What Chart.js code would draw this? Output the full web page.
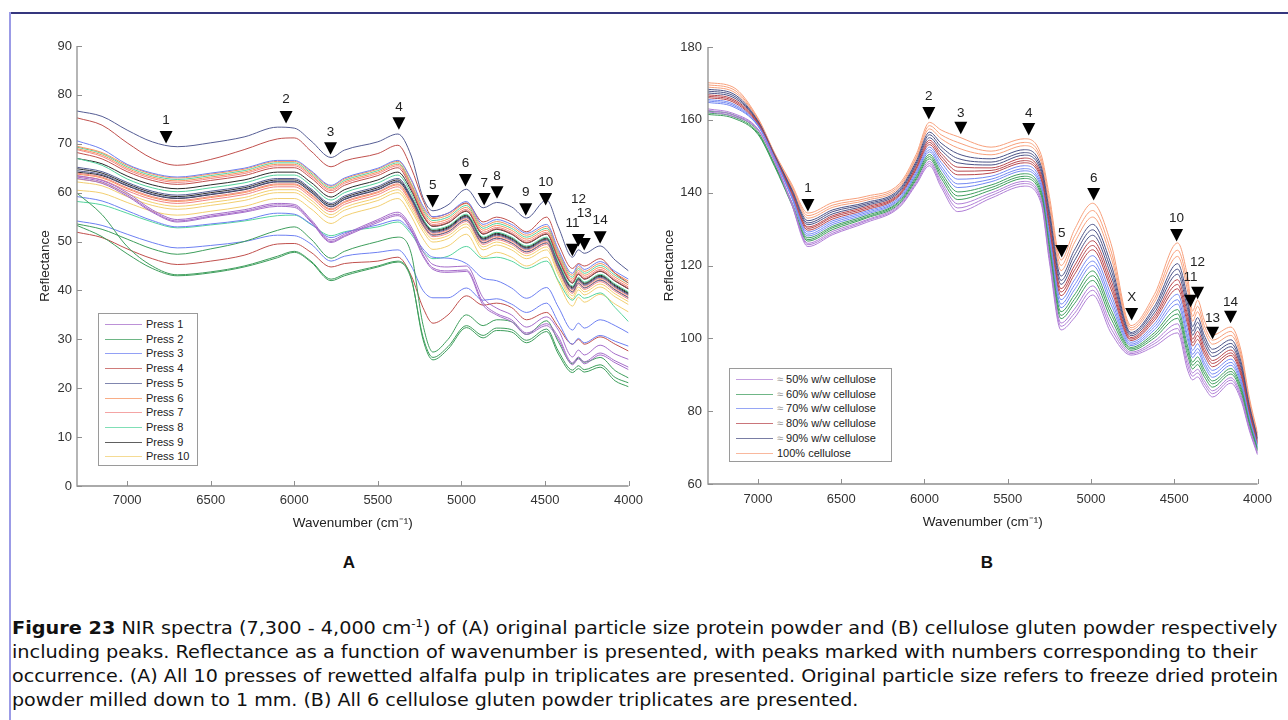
<!DOCTYPE html>
<html>
<head>
<meta charset="utf-8">
<title>NIR spectra</title>
<script src="https://cdn.jsdelivr.net/npm/chart.js@4.4.1/dist/chart.umd.min.js"></script>
<style>
  html, body { margin: 0; padding: 0; background: #fff; }
  body { width: 1288px; height: 720px; position: relative; overflow: hidden;
         font-family: "Liberation Sans", Arial, sans-serif; }
  .frame-top { position: absolute; left: 9px; top: 12px; width: 1279px; border-top: 2px solid #35367e; }
  .frame-left { position: absolute; left: 9px; top: 12px; height: 708px; border-left: 2px solid #9b9be6; }
  canvas { position: absolute; }
  #chartA { left: 20px; top: 30px; }
  #chartB { left: 650px; top: 30px; }
  .panel { position: absolute; top: 553px; width: 40px; text-align: center;
           font-weight: bold; font-size: 17px; color: #111; }
  .legend { position: absolute; border: 1px solid #9a9a9a; background: #fff;
            font-size: 11px; color: #222; }
  .legend .row { position: absolute; left: 0; height: 14px; line-height: 14px; white-space: nowrap; }
  .legend .swatch { position: absolute; top: 7px; border-top: 1.5px solid; opacity: 0.75; }
  .legend .txt { position: absolute; top: 0; }
  .legend .approx { color: #999; }
  .cap { position: absolute; left: 12px; white-space: nowrap; display: inline-block;
         font-family: "Liberation Sans Narrow", "DejaVu Sans Condensed", "Liberation Sans", Arial, sans-serif;
         font-size: 18px; line-height: 24px; color: #111; transform-origin: 0 50%; }
  .cap b { font-weight: bold; }
  .cap sup { font-size: 11px; line-height: 0; }
</style>
</head>
<body>
<div class="frame-top"></div>
<div class="frame-left"></div>

<canvas id="chartA" width="630" height="520"></canvas>
<canvas id="chartB" width="630" height="520"></canvas>

<div id="legendA" class="legend" style="left:98px; top:313px; width:98px; height:151px;"></div>
<div id="legendB" class="legend" style="left:729px; top:368px; width:161px; height:92px;"></div>

<div class="panel" style="left:329px;">A</div>
<div class="panel" style="left:967px;">B</div>

<div class="cap" data-width="1266" style="top:616px;"><b>Figure 23</b> NIR spectra (7,300 - 4,000 cm<sup>-1</sup>) of (A) original particle size protein powder and (B) cellulose gluten powder respectively</div>
<div class="cap" data-width="1245" style="top:640px;">including peaks. Reflectance as a function of wavenumber is presented, with peaks marked with numbers corresponding to their</div>
<div class="cap" data-width="1266" style="top:664px;">occurrence. (A) All 10 presses of rewetted alfalfa pulp in triplicates are presented. Original particle size refers to freeze dried protein</div>
<div class="cap" data-width="846" style="top:688px;">powder milled down to 1 mm. (B) All 6 cellulose gluten powder triplicates are presented.</div>

<script>
// ---- Panel A: 10 presses, triplicates ----
const wavenumbersA = [7300, 7150, 7000, 6850, 6700, 6500, 6300, 6100, 6000, 5900, 5780, 5700, 5500, 5380, 5300, 5230,
  5170, 5080, 4970, 4870, 4790, 4700, 4610, 4490, 4420, 4335, 4300, 4265, 4170, 4080, 4000];

const press1_1 = [63.5, 62.5, 60.0, 56.5, 54.5, 55.5, 56.5, 57.8, 57.6, 54.5, 50.3, 51.5, 54.5, 56.0, 53.0, 48.0, 45.3, 44.8, 45.0, 38.5, 36.4, 35.0, 32.5, 34.6, 31.9, 26.4, 27.8, 26.8, 28.8, 27.0, 25.9];
const press1_2 = [63.2, 62.2, 59.6, 56.2, 54.2, 55.2, 56.2, 57.5, 57.3, 54.2, 50.0, 51.2, 54.2, 55.6, 52.5, 47.3, 44.6, 44.0, 44.2, 37.5, 35.3, 34.0, 31.3, 33.2, 30.5, 25.2, 26.4, 25.4, 27.2, 25.6, 24.3];
const press1_3 = [62.9, 61.9, 59.3, 56.0, 54.0, 55.0, 56.0, 57.2, 57.0, 54.0, 49.8, 51.0, 53.9, 55.3, 52.2, 47.0, 44.3, 43.7, 43.9, 37.0, 35.0, 33.6, 31.0, 32.8, 30.0, 24.8, 26.0, 25.0, 26.8, 25.2, 23.8];

const press2_1 = [59.9, 55.5, 49.0, 45.0, 43.2, 43.8, 45.0, 47.0, 48.0, 46.0, 42.3, 43.3, 45.0, 46.0, 42.5, 30.0, 25.8, 28.0, 32.4, 30.3, 31.8, 31.5, 29.3, 31.6, 27.0, 23.2, 24.0, 23.3, 24.3, 21.5, 20.3];
const press2_2 = [53.6, 52.5, 50.5, 48.5, 47.4, 48.5, 50.0, 52.3, 53.0, 50.5, 46.6, 48.0, 50.0, 50.9, 47.5, 33.0, 27.4, 30.0, 35.0, 32.8, 34.0, 33.6, 31.0, 33.8, 29.5, 25.0, 26.2, 25.3, 26.3, 23.6, 22.1];
const press2_3 = [53.3, 51.0, 47.5, 44.5, 43.0, 43.6, 44.8, 46.7, 47.8, 45.8, 42.0, 43.0, 44.8, 45.8, 42.3, 30.5, 26.3, 28.5, 32.8, 30.8, 32.3, 32.0, 29.8, 32.1, 27.6, 23.7, 24.6, 23.8, 24.8, 22.2, 21.1];

const press3_1 = [70.6, 68.9, 65.8, 64.0, 63.2, 64.0, 65.0, 66.6, 66.6, 64.5, 61.5, 63.0, 65.0, 66.6, 62.7, 57.3, 55.1, 55.8, 58.2, 53.5, 54.5, 53.5, 51.7, 53.5, 48.4, 43.5, 45.3, 44.3, 45.9, 43.9, 42.3];
const press3_2 = [59.2, 58.3, 56.3, 54.3, 53.0, 53.6, 54.4, 55.8, 55.6, 53.6, 50.8, 51.8, 53.4, 54.4, 52.0, 48.5, 46.8, 46.6, 45.5, 42.5, 42.0, 40.5, 38.4, 40.6, 36.6, 31.9, 33.3, 32.3, 34.0, 32.8, 31.3];
const press3_3 = [54.2, 53.3, 51.5, 49.8, 48.7, 49.2, 50.0, 51.3, 51.2, 49.5, 46.0, 47.0, 47.8, 48.3, 45.0, 40.0, 38.5, 38.5, 40.5, 38.0, 38.3, 37.2, 35.5, 37.4, 33.5, 29.0, 30.2, 29.3, 30.8, 29.6, 28.6];

const press4_1 = [75.3, 73.8, 70.2, 67.0, 65.6, 66.8, 68.8, 71.0, 71.2, 68.5, 65.3, 66.5, 68.0, 69.7, 65.0, 58.5, 55.0, 55.8, 57.9, 54.0, 55.0, 54.0, 52.0, 55.0, 49.5, 44.5, 45.5, 45.0, 46.5, 43.5, 41.5];
const press4_2 = [68.2, 66.9, 64.3, 62.5, 61.7, 62.5, 63.5, 65.1, 65.1, 63.0, 60.0, 61.5, 63.5, 65.1, 60.8, 55.4, 53.2, 53.9, 56.3, 51.6, 52.6, 51.6, 49.8, 51.6, 46.5, 41.6, 43.4, 42.4, 44.0, 42.0, 40.4];
const press4_3 = [51.9, 50.8, 48.5, 46.5, 45.3, 46.0, 47.2, 49.5, 49.6, 47.8, 44.8, 45.5, 46.0, 46.8, 43.0, 36.5, 33.3, 35.0, 38.9, 37.0, 37.4, 36.5, 34.0, 35.5, 32.5, 29.0, 30.0, 29.0, 30.5, 29.0, 27.6];

const press5_1 = [76.7, 75.6, 72.8, 70.4, 69.4, 70.2, 71.4, 73.4, 73.2, 70.6, 67.2, 68.7, 70.4, 72.0, 67.5, 59.0, 56.3, 57.5, 60.7, 56.9, 58.0, 57.1, 54.8, 58.5, 53.0, 46.8, 48.3, 47.6, 49.1, 46.2, 44.0];
const press5_2 = [65.2, 64.3, 62.1, 60.3, 59.5, 60.3, 61.3, 62.9, 62.9, 60.8, 57.8, 59.3, 61.3, 62.9, 59.2, 54.1, 51.9, 52.6, 55.0, 50.3, 51.3, 50.3, 48.5, 50.3, 45.2, 40.3, 42.1, 41.1, 42.7, 40.7, 39.1];
const press5_3 = [64.5, 63.7, 61.5, 59.7, 58.9, 59.7, 60.7, 62.3, 62.3, 60.2, 57.2, 58.7, 60.7, 62.3, 58.6, 53.5, 51.3, 52.0, 54.4, 49.7, 50.7, 49.7, 47.9, 49.7, 44.6, 39.7, 41.5, 40.5, 42.1, 40.1, 38.5];

const press6_1 = [69.5, 68.2, 65.6, 63.8, 63.0, 63.8, 64.8, 66.4, 66.4, 64.3, 61.3, 62.8, 64.8, 66.4, 62.5, 56.9, 54.7, 55.4, 57.8, 53.1, 54.1, 53.1, 51.3, 53.1, 48.0, 43.1, 44.9, 43.9, 45.5, 43.5, 41.9];
const press6_2 = [69.0, 67.7, 65.0, 63.2, 62.4, 63.2, 64.2, 65.8, 65.8, 63.7, 60.7, 62.2, 64.2, 65.8, 61.6, 56.1, 53.9, 54.6, 57.0, 52.3, 53.3, 52.3, 50.5, 52.3, 47.2, 42.3, 44.1, 43.1, 44.7, 42.7, 41.1];
const press6_3 = [63.8, 63.0, 60.8, 59.0, 58.2, 59.0, 60.0, 61.6, 61.6, 59.5, 56.5, 58.0, 60.0, 61.6, 58.0, 53.6, 51.4, 52.1, 54.5, 49.8, 50.8, 49.8, 48.0, 49.8, 44.7, 39.8, 41.6, 40.6, 42.2, 40.2, 38.6];

const press7_1 = [68.8, 67.4, 64.7, 62.9, 62.1, 62.9, 63.9, 65.5, 65.5, 63.4, 60.4, 61.9, 63.9, 65.5, 61.3, 55.7, 53.5, 54.2, 56.6, 51.9, 52.9, 51.9, 50.1, 51.9, 46.8, 41.9, 43.7, 42.7, 44.3, 42.3, 40.7];
const press7_2 = [64.0, 63.2, 61.0, 59.2, 58.4, 59.2, 60.2, 61.8, 61.8, 59.7, 56.7, 58.2, 60.2, 61.8, 58.3, 53.9, 51.7, 52.4, 54.8, 50.1, 51.1, 50.1, 48.3, 50.1, 45.0, 40.1, 41.9, 40.9, 42.5, 40.5, 38.9];
const press7_3 = [63.4, 62.6, 60.4, 58.6, 57.8, 58.6, 59.6, 61.2, 61.2, 59.1, 56.1, 57.6, 59.6, 61.2, 57.6, 53.2, 51.0, 51.7, 54.1, 49.4, 50.4, 49.4, 47.6, 49.4, 44.3, 39.4, 41.2, 40.2, 41.8, 39.8, 38.2];

const press8_1 = [69.3, 68.0, 65.3, 63.5, 62.7, 63.5, 64.5, 66.1, 66.1, 64.0, 61.0, 62.5, 64.5, 66.1, 61.8, 56.5, 54.3, 55.0, 57.4, 52.7, 53.7, 52.7, 50.9, 52.7, 47.6, 42.7, 44.5, 43.5, 45.1, 43.1, 41.5];
const press8_2 = [67.0, 65.6, 62.8, 61.0, 60.2, 61.0, 62.0, 63.6, 63.6, 61.5, 58.5, 60.0, 62.0, 63.6, 59.8, 54.7, 52.5, 53.2, 55.6, 50.9, 51.9, 50.9, 49.1, 50.9, 45.8, 40.9, 42.7, 41.7, 43.3, 41.3, 39.7];
const press8_3 = [58.2, 57.5, 55.8, 54.0, 52.8, 53.4, 54.2, 55.3, 55.4, 53.5, 51.2, 52.0, 53.0, 54.0, 51.5, 48.0, 46.5, 47.0, 49.0, 46.5, 46.8, 46.0, 44.5, 46.0, 42.0, 38.0, 39.2, 38.4, 39.5, 36.5, 33.6];

const press9_1 = [67.0, 65.9, 63.4, 61.6, 60.8, 61.6, 62.6, 64.2, 64.2, 62.1, 59.1, 60.6, 62.6, 64.2, 60.4, 55.3, 53.1, 53.8, 56.2, 51.5, 52.5, 51.5, 49.7, 51.5, 46.4, 41.5, 43.3, 42.3, 43.9, 41.9, 40.3];
const press9_2 = [64.9, 64.0, 61.8, 60.0, 59.2, 60.0, 61.0, 62.6, 62.6, 60.5, 57.5, 59.0, 61.0, 62.6, 59.0, 54.5, 52.3, 53.0, 55.4, 50.7, 51.7, 50.7, 48.9, 50.7, 45.6, 40.7, 42.5, 41.5, 43.1, 41.1, 39.5];
const press9_3 = [64.2, 63.5, 61.4, 59.6, 58.8, 59.6, 60.6, 62.2, 62.2, 60.1, 57.1, 58.6, 60.6, 62.2, 58.7, 54.3, 52.1, 52.8, 55.2, 50.5, 51.5, 50.5, 48.7, 50.5, 45.4, 40.5, 42.3, 41.3, 42.9, 40.9, 39.3];

const press10_1 = [62.8, 62.0, 59.8, 58.0, 57.2, 58.0, 59.0, 60.6, 60.6, 58.5, 55.5, 57.0, 59.0, 60.6, 57.0, 52.7, 50.5, 51.2, 53.6, 48.9, 49.9, 48.9, 47.1, 48.9, 43.8, 38.9, 40.7, 39.7, 41.3, 39.3, 37.7];
const press10_2 = [62.2, 61.4, 59.2, 57.4, 56.6, 57.4, 58.4, 60.0, 60.0, 57.9, 54.9, 56.4, 58.4, 60.0, 56.4, 52.1, 49.9, 50.6, 53.0, 48.3, 49.3, 48.3, 46.5, 48.3, 43.2, 38.3, 40.1, 39.1, 40.7, 38.7, 37.1];
const press10_3 = [60.5, 59.9, 58.0, 56.2, 55.4, 56.2, 57.2, 58.8, 58.8, 56.7, 53.7, 55.2, 57.2, 58.8, 55.2, 50.6, 48.4, 49.1, 51.5, 46.8, 47.8, 46.8, 45.0, 46.8, 41.7, 36.8, 38.6, 37.6, 39.2, 37.2, 35.6];

const pressLabels = ['Press 1', 'Press 2', 'Press 3', 'Press 4', 'Press 5', 'Press 6', 'Press 7', 'Press 8', 'Press 9', 'Press 10'];
const pressColors = ['#a56cc9', '#3e9e5c', '#6e80f2', '#c0504d', '#555d94', '#f7925e', '#f08585', '#55d49e', '#2b2b2b', '#f2cf70'];

const peaksA_wavenumber = [6767, 6049, 5783, 5374, 5172, 4976, 4864, 4787, 4615, 4496, 4336, 4300, 4265, 4170];
const peaksA_level = [71.4, 75.5, 69.1, 74.2, 58.3, 62.6, 58.7, 60.1, 56.6, 58.7, 48.3, 50.3, 49.5, 50.9];
const peaksA_labelLevel = [74.8, 79.1, 72.4, 77.5, 61.6, 66.1, 62.0, 63.4, 60.1, 62.2, 53.8, 58.7, 55.8, 54.4];
const peaksA_names = ['1', '2', '3', '4', '5', '6', '7', '8', '9', '10', '11', '12', '13', '14'];

const yTicksA = [0, 10, 20, 30, 40, 50, 60, 70, 80, 90];

// ---- Panel B: cellulose gluten powder, triplicates ----
const wavenumbersB = [7300, 7150, 7000, 6900, 6800, 6700, 6550, 6350, 6150, 6050, 5970, 5900, 5800, 5600, 5400, 5300,
  5250, 5180, 5100, 4990, 4880, 4760, 4620, 4480, 4420, 4390, 4360, 4320, 4270, 4160, 4100, 4050, 4000];

const cell50_1 = [162.2, 161.0, 157.2, 148.5, 137.1, 125.2, 128.5, 131.8, 136.0, 142.2, 147.4, 141.5, 134.8, 138.5, 141.8, 137.1, 121.0, 102.3, 105.6, 111.9, 101.5, 95.4, 97.8, 101.5, 91.3, 88.6, 89.4, 86.6, 83.9, 87.7, 83.1, 74.8, 68.0];
const cell50_2 = [162.6, 161.4, 157.4, 148.6, 137.4, 125.7, 128.9, 132.2, 136.3, 142.6, 148.0, 142.3, 135.8, 139.2, 142.5, 137.8, 121.9, 103.3, 106.8, 113.2, 102.7, 95.8, 98.5, 102.7, 92.6, 89.6, 90.5, 87.5, 84.8, 88.5, 83.8, 75.3, 68.3];
const cell50_3 = [163.0, 161.8, 157.5, 148.7, 137.7, 126.1, 129.4, 132.5, 136.7, 143.0, 148.6, 143.1, 136.9, 139.9, 143.1, 138.4, 122.8, 104.2, 108.0, 114.4, 104.0, 96.2, 99.2, 104.0, 93.9, 90.5, 91.5, 88.4, 85.6, 89.2, 84.5, 75.7, 68.6];

const cell60_1 = [161.5, 160.5, 156.0, 147.2, 137.0, 126.7, 129.9, 133.0, 137.0, 143.5, 149.3, 144.0, 138.1, 140.7, 143.9, 139.2, 123.9, 105.4, 109.5, 115.9, 105.4, 96.7, 100.1, 105.5, 95.4, 91.6, 92.8, 89.5, 86.6, 90.2, 85.3, 76.3, 69.0];
const cell60_2 = [161.9, 160.9, 156.3, 147.5, 137.4, 127.1, 130.4, 133.3, 137.4, 143.9, 149.9, 144.8, 139.1, 141.4, 144.5, 139.9, 124.8, 106.3, 110.7, 117.2, 106.7, 97.1, 100.8, 106.7, 96.7, 92.6, 93.8, 90.5, 87.5, 90.9, 86.0, 76.7, 69.3];
const cell60_3 = [162.4, 161.4, 156.7, 147.8, 137.7, 127.6, 130.8, 133.7, 137.7, 144.4, 150.5, 145.6, 140.2, 142.1, 145.2, 140.6, 125.7, 107.3, 111.9, 118.5, 107.9, 97.5, 101.5, 107.9, 97.9, 93.5, 94.9, 91.4, 88.3, 91.7, 86.7, 77.2, 69.6];

const cell70_1 = [164.8, 163.6, 158.3, 149.3, 138.9, 128.1, 131.3, 134.1, 138.1, 144.9, 151.2, 146.5, 141.4, 143.0, 146.0, 141.4, 126.8, 108.4, 113.3, 120.0, 109.3, 98.0, 102.3, 109.4, 99.5, 94.7, 96.2, 92.5, 89.3, 92.6, 87.5, 77.7, 69.9];
const cell70_2 = [165.2, 164.0, 158.4, 149.4, 139.1, 128.6, 131.8, 134.5, 138.4, 145.3, 151.8, 147.3, 142.4, 143.7, 146.6, 142.1, 127.7, 109.4, 114.6, 121.2, 110.6, 98.4, 103.1, 110.6, 100.7, 95.6, 97.2, 93.4, 90.2, 93.4, 88.2, 78.2, 70.2];
const cell70_3 = [165.6, 164.4, 158.6, 149.5, 139.5, 129.2, 132.3, 134.9, 138.8, 145.8, 152.5, 148.3, 143.7, 144.5, 147.4, 142.9, 128.7, 110.6, 116.0, 122.7, 112.0, 98.9, 103.9, 112.1, 102.3, 96.7, 98.5, 94.5, 91.2, 94.3, 89.0, 78.7, 70.6];

const cell80_1 = [166.1, 164.9, 158.8, 149.7, 139.8, 129.7, 132.8, 135.3, 139.2, 146.3, 153.2, 149.2, 144.9, 145.4, 148.2, 143.7, 129.8, 111.7, 117.5, 124.3, 113.5, 99.4, 104.8, 113.6, 103.8, 97.9, 99.7, 95.6, 92.2, 95.3, 89.8, 79.3, 70.9];
const cell80_2 = [166.5, 165.3, 159.0, 149.8, 140.1, 130.2, 133.3, 135.7, 139.5, 146.7, 153.8, 150.0, 145.9, 146.1, 148.8, 144.3, 130.7, 112.7, 118.7, 125.5, 114.7, 99.8, 105.5, 114.8, 105.1, 98.8, 100.8, 96.5, 93.1, 96.0, 90.5, 79.7, 71.2];
const cell80_3 = [166.9, 165.7, 159.2, 149.9, 140.4, 130.6, 133.7, 136.1, 139.8, 147.1, 154.4, 150.8, 147.0, 146.8, 149.5, 145.0, 131.6, 113.6, 119.9, 126.8, 116.0, 100.2, 106.2, 116.1, 106.4, 99.8, 101.9, 97.5, 93.9, 96.8, 91.2, 80.2, 71.5];

const cell90_1 = [167.4, 166.2, 159.4, 150.1, 140.7, 131.2, 134.2, 136.5, 140.2, 147.6, 155.1, 151.7, 148.2, 147.6, 150.3, 145.8, 132.7, 114.8, 121.3, 128.3, 117.4, 100.7, 107.0, 117.6, 107.9, 100.9, 103.1, 98.6, 95.0, 97.7, 92.0, 80.7, 71.9];
const cell90_2 = [167.9, 166.7, 159.5, 150.2, 141.0, 131.7, 134.8, 136.9, 140.6, 148.1, 155.9, 152.6, 149.4, 148.4, 151.0, 146.6, 133.8, 115.9, 122.8, 129.8, 118.9, 101.2, 107.9, 119.0, 109.4, 102.0, 104.4, 99.7, 96.0, 98.6, 92.8, 81.3, 72.3];
const cell90_3 = [168.4, 167.2, 159.7, 150.4, 141.3, 132.3, 135.3, 137.3, 141.0, 148.6, 156.6, 153.6, 150.7, 149.3, 151.8, 147.4, 134.9, 117.1, 124.2, 131.3, 120.4, 101.6, 108.7, 120.5, 110.9, 103.2, 105.7, 100.8, 97.0, 99.6, 93.7, 81.8, 72.6];

const cell100_1 = [169.0, 167.8, 160.0, 150.5, 141.8, 133.0, 136.0, 137.9, 141.5, 149.3, 157.5, 154.8, 152.3, 150.4, 152.9, 148.5, 136.3, 118.6, 126.2, 133.3, 122.3, 102.3, 109.9, 122.5, 113.0, 104.7, 107.3, 102.2, 98.4, 100.8, 94.8, 82.5, 73.1];
const cell100_2 = [169.6, 168.4, 160.2, 150.7, 142.2, 133.7, 136.6, 138.4, 142.0, 149.8, 158.4, 155.9, 153.8, 151.4, 153.8, 149.4, 137.6, 120.0, 127.9, 135.1, 124.0, 102.9, 110.9, 124.2, 114.8, 106.0, 108.8, 103.5, 99.5, 101.9, 95.7, 83.2, 73.5];
const cell100_3 = [170.2, 169.0, 160.5, 150.9, 142.6, 134.4, 137.3, 139.0, 142.5, 150.5, 159.3, 157.2, 155.4, 152.5, 154.8, 150.5, 139.0, 121.5, 129.8, 137.1, 126.0, 103.5, 112.0, 126.2, 116.8, 107.5, 110.5, 105.0, 100.9, 103.1, 96.8, 83.9, 74.0];

const celluloseLabels = ['≈ 50% w/w cellulose', '≈ 60% w/w cellulose', '≈ 70% w/w cellulose',
  '≈ 80% w/w cellulose', '≈ 90% w/w cellulose', '100% cellulose'];
const celluloseColors = ['#b07fd6', '#3f9e5e', '#7388f2', '#b8474d', '#4c5286', '#f7a07c'];

const peaksB_wavenumber = [6700, 5974, 5782, 5374, 5176, 4984, 4756, 4486, 4402, 4360, 4270, 4162];
const peaksB_level = [136.6, 161.9, 157.8, 157.5, 124.0, 139.6, 106.7, 128.4, 110.3, 112.5, 101.5, 105.9];
const peaksB_labelLevel = [141.3, 166.5, 161.9, 161.9, 128.9, 144.0, 111.4, 133.0, 116.8, 121.0, 105.6, 110.0];
const peaksB_names = ['1', '2', '3', '4', '5', '6', 'X', '10', '11', '12', '13', '14'];

const yTicksB = [60, 80, 100, 120, 140, 160, 180];
const xTicks = [7000, 6500, 6000, 5500, 5000, 4500, 4000];

// ---- drawing helpers ----
Chart.defaults.font.family = '"Liberation Sans", Arial, sans-serif';
Chart.defaults.color = '#333';

// MATLAB-style axes: left and bottom lines with ticks pointing inward
const inwardAxes = {
  id: 'inwardAxes',
  afterDraw(chart) {
    const { ctx, chartArea: a, scales: { x, y } } = chart;
    ctx.save();
    ctx.strokeStyle = '#8f8f8f';
    ctx.lineWidth = 1.3;
    ctx.beginPath();
    ctx.moveTo(a.left, a.top);
    ctx.lineTo(a.left, a.bottom);
    ctx.lineTo(a.right, a.bottom);
    ctx.stroke();
    ctx.lineWidth = 1;
    ctx.beginPath();
    x.ticks.forEach(t => {
      const px = Math.round(x.getPixelForValue(t.value)) + 0.5;
      ctx.moveTo(px, a.bottom);
      ctx.lineTo(px, a.bottom - 5);
    });
    y.ticks.forEach(t => {
      const py = Math.round(y.getPixelForValue(t.value)) + 0.5;
      ctx.moveTo(a.left, py);
      ctx.lineTo(a.left + 5, py);
    });
    ctx.stroke();
    ctx.restore();
  }
};

// downward triangles with peak numbers
const peakMarkers = {
  id: 'peakMarkers',
  afterDatasetsDraw(chart, args, opts) {
    if (!opts.names) return;
    const { ctx, scales: { x, y } } = chart;
    ctx.save();
    ctx.font = '13.5px "Liberation Sans", Arial, sans-serif';
    ctx.textAlign = 'center';
    ctx.textBaseline = 'middle';
    opts.names.forEach((name, i) => {
      const px = x.getPixelForValue(opts.wavenumber[i]);
      const py = y.getPixelForValue(opts.level[i]);
      ctx.fillStyle = '#000';
      ctx.beginPath();
      ctx.moveTo(px - 6.5, py - 6);
      ctx.lineTo(px + 6.5, py - 6);
      ctx.lineTo(px, py + 6.5);
      ctx.closePath();
      ctx.fill();
      ctx.fillStyle = '#222';
      ctx.fillText(name, px, y.getPixelForValue(opts.labelLevel[i]));
    });
    ctx.restore();
  }
};

function lineDataset(wavenumbers, values, color) {
  return {
    data: wavenumbers.map((w, i) => ({ x: w, y: values[i] })),
    borderColor: color,
    borderWidth: 1,
    pointRadius: 0,
    cubicInterpolationMode: 'monotone',
    fill: false
  };
}

function buildChart(id, datasets, yTicks, peaks, box) {
  const ctx = document.getElementById(id).getContext('2d');
  return new Chart(ctx, {
    type: 'line',
    data: { datasets },
    options: {
      responsive: false,
      animation: false,
      events: [],
      layout: { padding: { left: 0, top: box.top, right: box.right, bottom: 0 } },
      plugins: {
        legend: { display: false },
        tooltip: { enabled: false },
        peakMarkers: peaks
      },
      scales: {
        x: {
          type: 'linear',
          reverse: true,
          min: 4000,
          max: 7300,
          grid: { display: false, drawTicks: false },
          border: { display: false },
          afterBuildTicks: s => { s.ticks = xTicks.map(v => ({ value: v })); },
          afterFit: s => { s.height = box.xAxisHeight; },
          ticks: { padding: box.xTickPad, maxRotation: 0, font: { size: 13 }, color: '#333', callback: v => String(v) },
          title: { display: true, text: 'Wavenumber (cm⁻¹)', color: '#222', font: { size: 13.5 },
                   padding: { top: 0, bottom: box.xTitlePad } }
        },
        y: {
          type: 'linear',
          min: yTicks[0],
          max: yTicks[yTicks.length - 1],
          grid: { display: false, drawTicks: false },
          border: { display: false },
          afterBuildTicks: s => { s.ticks = yTicks.map(v => ({ value: v })); },
          afterFit: s => { s.width = box.yAxisWidth; },
          ticks: { padding: box.yTickPad, font: { size: 13 }, color: '#333', callback: v => String(v) },
          title: { display: true, text: 'Reflectance', color: '#222', font: { size: 13.5 },
                   padding: { top: box.yTitlePad, bottom: 0 } }
        }
      }
    },
    plugins: [inwardAxes, peakMarkers]
  });
}

function buildLegend(id, labels, colors) {
  const el = document.getElementById(id);
  labels.forEach((label, i) => {
    const row = document.createElement('div');
    row.className = 'row';
    row.style.top = (3 + i * 14.7) + 'px';
    row.style.width = '100%';
    const sw = document.createElement('span');
    sw.className = 'swatch';
    sw.style.left = '6px';
    sw.style.width = '37px';
    sw.style.borderTopColor = colors[i];
    const txt = document.createElement('span');
    txt.className = 'txt';
    txt.style.left = '47px';
    if (label.startsWith('≈')) {
      txt.innerHTML = '<span class="approx">≈</span>' + label.slice(1);
    } else {
      txt.textContent = label;
    }
    row.appendChild(sw);
    row.appendChild(txt);
    el.appendChild(row);
  });
}

// ---- panel A ----
const pressGroups = [
  [press1_1, press1_2, press1_3], [press2_1, press2_2, press2_3], [press3_1, press3_2, press3_3],
  [press4_1, press4_2, press4_3], [press5_1, press5_2, press5_3], [press6_1, press6_2, press6_3],
  [press7_1, press7_2, press7_3], [press8_1, press8_2, press8_3], [press9_1, press9_2, press9_3],
  [press10_1, press10_2, press10_3]
];
const datasetsA = [];
pressGroups.forEach((group, p) => group.forEach(vals => datasetsA.push(lineDataset(wavenumbersA, vals, pressColors[p]))));

buildChart('chartA', datasetsA, yTicksA,
  { wavenumber: peaksA_wavenumber, level: peaksA_level, labelLevel: peaksA_labelLevel, names: peaksA_names },
  { top: 16, right: 17, xAxisHeight: 64, yAxisWidth: 57, xTickPad: 7, yTickPad: 5, xTitlePad: 19, yTitlePad: 17 });
buildLegend('legendA', pressLabels, pressColors);

// ---- panel B ----
const celluloseGroups = [
  [cell50_1, cell50_2, cell50_3], [cell60_1, cell60_2, cell60_3], [cell70_1, cell70_2, cell70_3],
  [cell80_1, cell80_2, cell80_3], [cell90_1, cell90_2, cell90_3], [cell100_1, cell100_2, cell100_3]
];
const datasetsB = [];
celluloseGroups.forEach((group, p) => group.forEach(vals => datasetsB.push(lineDataset(wavenumbersB, vals, celluloseColors[p]))));

buildChart('chartB', datasetsB, yTicksB,
  { wavenumber: peaksB_wavenumber, level: peaksB_level, labelLevel: peaksB_labelLevel, names: peaksB_names },
  { top: 17, right: 22, xAxisHeight: 66, yAxisWidth: 58, xTickPad: 8, yTickPad: 6, xTitlePad: 20, yTitlePad: 11 });
buildLegend('legendB', celluloseLabels, celluloseColors);

// caption lines are fitted to the text block width
document.querySelectorAll('.cap').forEach(el => {
  const target = +el.dataset.width;
  el.style.transform = 'scaleX(' + (target / el.scrollWidth) + ')';
});
</script>
</body>
</html>
